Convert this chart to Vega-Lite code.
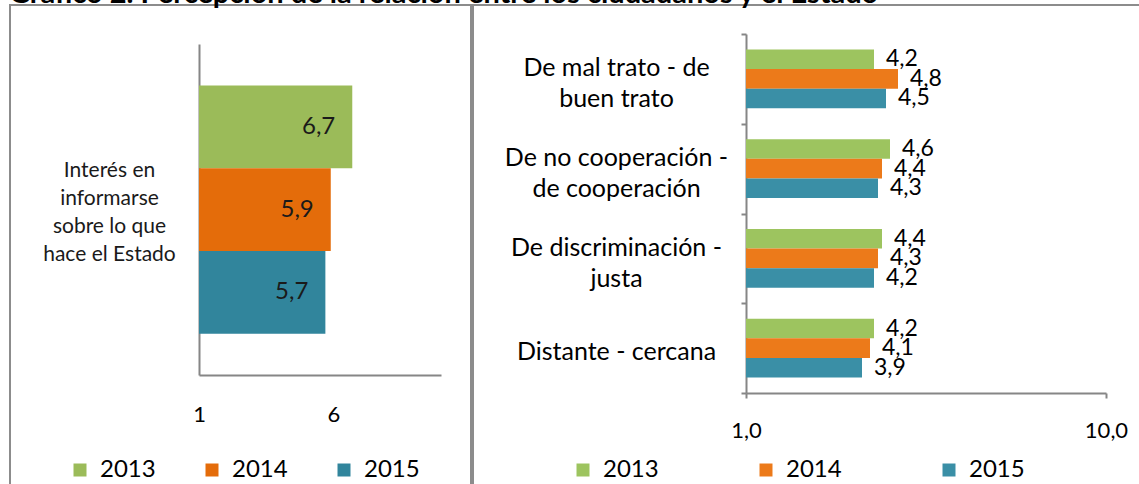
{
  "$schema": "https://vega.github.io/schema/vega-lite/v6.json",
  "padding": {"left": 9, "top": -20, "right": 0, "bottom": 0},
  "background": "white",
  "title": {"text": "Gráfico 2. Percepción de la relación entre los ciudadanos y el Estado", "anchor": "start", "fontSize": 29, "font": "Lato", "fontWeight": "bold", "offset": -17, "color": "#000000"},
  "config": {
    "locale": {"number": {"decimal": ",", "thousands": ".", "grouping": [3], "currency": ["", " €"]}},
    "view": {"stroke": "#8c8c8c", "strokeWidth": 2},
    "font": "Lato",
    "concat": {"spacing": 0}
  },
  "datasets": {
    "interes": [
      {"categoria": "Interés en informarse sobre lo que hace el Estado", "anio": "2013", "valor": 6.7},
      {"categoria": "Interés en informarse sobre lo que hace el Estado", "anio": "2014", "valor": 5.9},
      {"categoria": "Interés en informarse sobre lo que hace el Estado", "anio": "2015", "valor": 5.7}
    ],
    "relacion": [
      {"categoria": "De mal trato - de buen trato", "anio": "2013", "valor": 4.2},
      {"categoria": "De mal trato - de buen trato", "anio": "2014", "valor": 4.8},
      {"categoria": "De mal trato - de buen trato", "anio": "2015", "valor": 4.5},
      {"categoria": "De no cooperación - de cooperación", "anio": "2013", "valor": 4.6},
      {"categoria": "De no cooperación - de cooperación", "anio": "2014", "valor": 4.4},
      {"categoria": "De no cooperación - de cooperación", "anio": "2015", "valor": 4.3},
      {"categoria": "De discriminación - justa", "anio": "2013", "valor": 4.4},
      {"categoria": "De discriminación - justa", "anio": "2014", "valor": 4.3},
      {"categoria": "De discriminación - justa", "anio": "2015", "valor": 4.2},
      {"categoria": "Distante - cercana", "anio": "2013", "valor": 4.2},
      {"categoria": "Distante - cercana", "anio": "2014", "valor": 4.1},
      {"categoria": "Distante - cercana", "anio": "2015", "valor": 3.9}
    ]
  },
  "hconcat": [
    {
      "width": 461,
      "height": 480,
      "data": {"name": "interes"},
      "encoding": {
        "y": {
          "field": "categoria", "type": "nominal",
          "scale": {"range": [39, 370], "paddingInner": 0, "paddingOuter": 0},
          "axis": {
            "title": null, "orient": "left", "offset": -189, "ticks": false, "tickSize": 0,
            "labelPadding": 90, "labelAlign": "center", "labelBaseline": "middle", "labelOffset": -39,
            "labelFontSize": 21, "labelLineHeight": 28, "labelColor": "#1a1a1a", "labelLimit": 400,
            "domainColor": "#868686", "domainWidth": 2,
            "labelExpr": "datum.value == 'Interés en informarse sobre lo que hace el Estado' ? ['Interés en','informarse','sobre lo que','hace el Estado'] : datum.label"
          }
        },
        "yOffset": {"field": "anio", "type": "nominal", "scale": {"range": [0, 331], "paddingOuter": 0.5, "paddingInner": 0}},
        "x": {
          "field": "valor", "type": "quantitative",
          "scale": {"domain": [1, 10], "range": [189, 431], "zero": false, "nice": false},
          "axis": {
            "title": null, "orient": "bottom", "offset": -110, "values": [1, 6], "format": "d", "labelFlush": false,
            "ticks": false, "tickSize": 0, "labelPadding": 29, "labelFontSize": 22, "labelColor": "#000000",
            "domainColor": "#868686", "domainWidth": 2, "grid": false
          }
        }
      },
      "layer": [
        {
          "mark": {"type": "bar"},
          "encoding": {
            "x2": {"datum": 1},
            "color": {
              "field": "anio", "type": "nominal",
              "scale": {"domain": ["2013", "2014", "2015"], "range": ["#9bbb59", "#e46c0a", "#31859c"]},
              "legend": {
                "orient": "none", "legendX": 58, "legendY": 453, "direction": "horizontal", "title": null,
                "symbolType": "square", "symbolSize": 169, "symbolStrokeWidth": 0,
                "labelFontSize": 24, "labelOffset": 8, "columnPadding": 44, "labelColor": "#000000"
              }
            }
          }
        },
        {
          "mark": {"type": "text", "align": "right", "baseline": "middle", "dx": -17, "fontSize": 24, "color": "#1a1a1a"},
          "encoding": {"text": {"field": "valor", "type": "quantitative", "format": ".1f"}}
        }
      ]
    },
    {
      "width": 670,
      "height": 480,
      "data": {"name": "relacion"},
      "encoding": {
        "y": {
          "field": "categoria", "type": "nominal",
          "sort": ["De mal trato - de buen trato", "De no cooperación - de cooperación", "De discriminación - justa", "Distante - cercana"],
          "scale": {"range": [29, 388], "paddingInner": 0, "paddingOuter": 0},
          "axis": {
            "title": null, "orient": "left", "offset": -273, "tickBand": "extent", "tickSize": 5,
            "tickColor": "#868686", "tickWidth": 2,
            "labelPadding": 125, "labelAlign": "center", "labelBaseline": "middle",
            "labelOffset": {"condition": {"test": "datum.value == 'Distante - cercana'", "value": 3}, "value": -11},
            "labelFontSize": 25, "labelLineHeight": 31, "labelColor": "#000000", "labelLimit": 400,
            "domainColor": "#868686", "domainWidth": 2,
            "labelExpr": "datum.value == 'De mal trato - de buen trato' ? ['De mal trato - de','buen trato'] : datum.value == 'De no cooperación - de cooperación' ? ['De no cooperación -','de cooperación'] : datum.value == 'De discriminación - justa' ? ['De discriminación -','justa'] : datum.label"
          }
        },
        "yOffset": {"field": "anio", "type": "nominal", "scale": {"range": [0, 89.75], "paddingOuter": 0.8, "paddingInner": 0}},
        "x": {
          "field": "valor", "type": "quantitative",
          "scale": {"domain": [1, 10], "range": [273, 633], "zero": false, "nice": false},
          "axis": {
            "title": null, "orient": "bottom", "offset": -92, "values": [1, 10], "format": ".1f", "labelFlush": false,
            "tickSize": 5, "tickColor": "#868686", "tickWidth": 2, "labelPadding": 22,
            "labelFontSize": 22, "labelColor": "#000000",
            "domainColor": "#868686", "domainWidth": 2, "grid": false
          }
        }
      },
      "layer": [
        {
          "mark": {"type": "bar"},
          "encoding": {
            "x2": {"datum": 1},
            "color": {
              "field": "anio", "type": "nominal",
              "scale": {"domain": ["2013", "2014", "2015"], "range": ["#9dc45f", "#ec7a1a", "#3a8fa6"]},
              "legend": {
                "orient": "none", "legendX": 98, "legendY": 453, "direction": "horizontal", "title": null,
                "symbolType": "square", "symbolSize": 169, "symbolStrokeWidth": 0,
                "labelFontSize": 24, "labelOffset": 8, "columnPadding": 95, "labelColor": "#000000"
              }
            }
          }
        },
        {
          "mark": {"type": "text", "align": "left", "baseline": "middle", "dx": 12, "fontSize": 23, "color": "#000000"},
          "encoding": {"text": {"field": "valor", "type": "quantitative", "format": ".1f"}}
        }
      ]
    }
  ],
  "resolve": {"scale": {"color": "independent", "yOffset": "independent"}, "legend": {"color": "independent"}}
}
